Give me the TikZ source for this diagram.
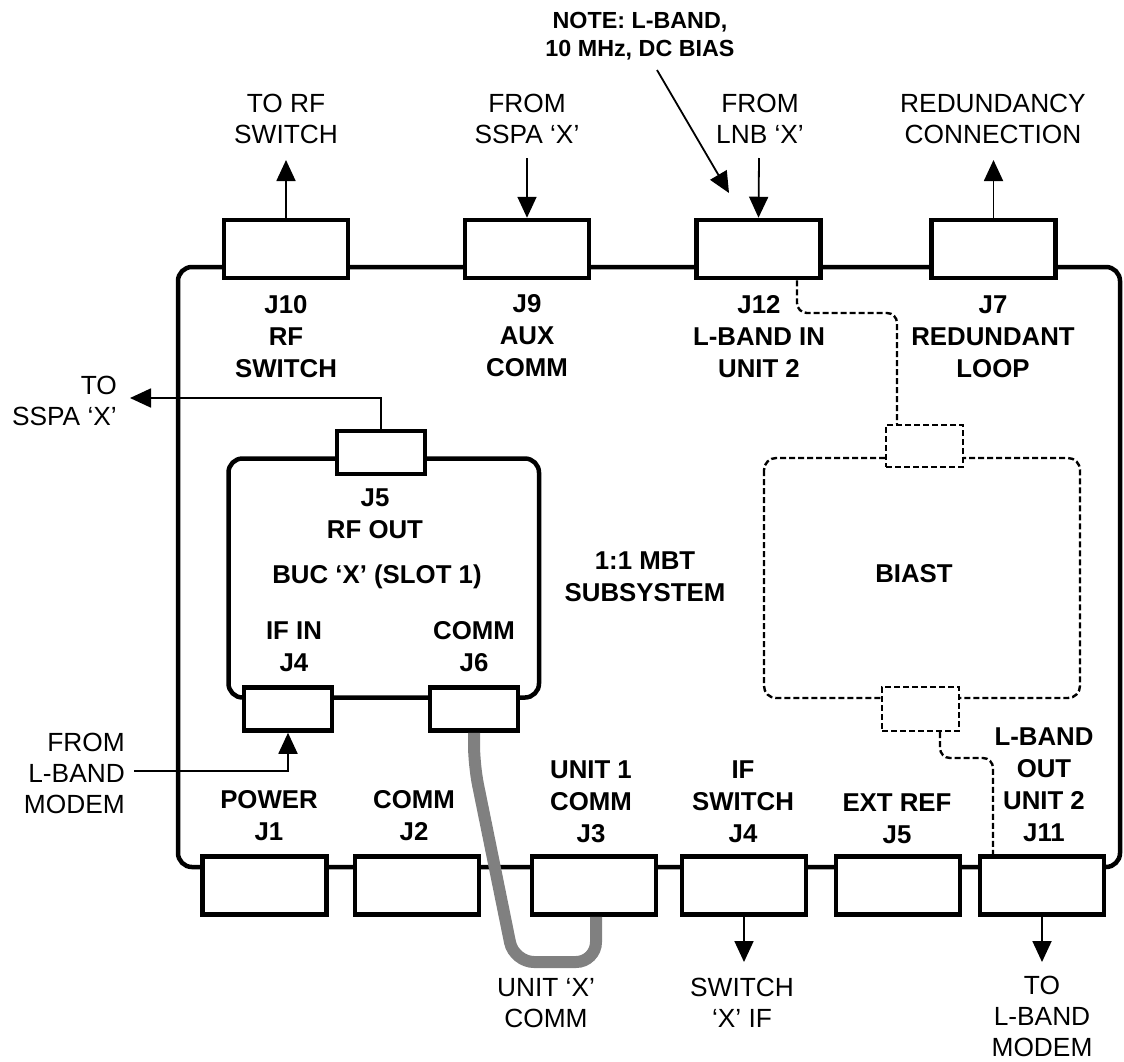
\documentclass[tikz,border=0pt]{standalone}
\usepackage{fontspec}
\setmainfont{Liberation Sans}
\usetikzlibrary{arrows.meta,calc}
\begin{document}
\begin{tikzpicture}[x=1pt,y=-1pt,
  thk/.style={line width=4.5pt},
  conn/.style={draw, line width=4.5pt, fill=white, minimum width=124pt, minimum height=58pt, inner sep=0pt},
  sconn/.style={conn, minimum width=88pt, minimum height=43pt},
  dsh/.style={line width=2.4pt, dash pattern=on 6pt off 3pt},
  dconn/.style={draw, dsh, fill=white, minimum width=77pt, minimum height=42pt, inner sep=0pt},
  arr/.style={line width=1.8pt, -{Triangle[length=21pt,width=19pt]}},
  cable/.style={line width=12pt, draw={rgb,255:red,128;green,128;blue,128}},
  txt/.style={font=\fontsize{26.3}{31}\selectfont, align=center, inner sep=0pt, anchor=base},
  btxt/.style={font=\bfseries\fontsize{25.8}{32}\selectfont, align=center, inner sep=0pt, anchor=base},
  ntxt/.style={font=\bfseries\fontsize{23.3}{28}\selectfont, align=center, inner sep=0pt, anchor=base}
]
\useasboundingbox (0,0) rectangle (1124,1061);

% outer subsystem frame
\draw[thk, rounded corners=14] (178,267) rectangle (1120,867);

% top connectors
\node[conn] (J10) at (286,249) {};
\node[conn] (J9) at (527,249) {};
\node[conn] (J12) at (758.5,249) {};
\node[conn] (J7) at (993.5,249) {};

% bottom connectors
\node[conn] (J1) at (264.5,885.5) {};
\node[conn] (J2) at (417,885.5) {};
\node[conn] (J3) at (594,885.5) {};
\node[conn] (J4) at (744,885.5) {};
\node[conn] (J5) at (898,885.5) {};
\node[conn] (J11) at (1042,885.5) {};

% BUC unit
\draw[thk, rounded corners=14] (228.5,458.5) rectangle (539,697.5);
\node[sconn] (bJ5) at (381,452.5) {};
\node[sconn] (bJ4) at (288,709) {};
\node[sconn] (bJ6) at (474,709) {};

% BIAST
\draw[dsh, rounded corners=12] (764,458) rectangle (1080,698);
\node[dconn] (bt) at (924.5,446) {};
\node[dconn, minimum height=44pt] (bb) at (920.5,709) {};
\node[btxt] (biast) at (914,582) {BIAST};

% dashed links
\draw[dsh, rounded corners=10] ([xshift=38.5pt]J12.south) -- (797,313) -- (897,313) -- ([xshift=-27.5pt]bt.north);
\draw[dsh, rounded corners=10] ([xshift=19.5pt]bb.south) -- (940,758) -- (993,758) -- ([xshift=-49pt]J11.north);

% top labels
\node[txt] (tRF) at (286,143) {TO RF\\SWITCH};
\node[txt] (tSSPA) at (527,143) {FROM\\SSPA ‘X’};
\node[txt] (tLNB) at (760,143) {FROM\\LNB ‘X’};
\node[txt] (tRED) at (993,143) {REDUNDANCY\\CONNECTION};
\node[ntxt] (note) at (640,56) {NOTE: L-BAND,\\10 MHz, DC BIAS};

\coordinate (aRF) at (286,160);
\coordinate (aSSPA) at (527,158);
\coordinate (aLNB) at (759,158);
\coordinate (aRED) at (993.5,160);
\coordinate (noteS) at (657,70);
\coordinate (noteE) at (729,193);
\draw[arr] (J10.north) -- (aRF);
\draw[arr] (aSSPA) -- (J9.north);
\draw[arr] (aLNB) -- (J12.north);
\draw[arr] (J7.north) -- (aRED);
\draw[arr] (noteS) -- (noteE);

% labels under top connectors
\node[btxt] (lJ10) at (286,377) {J10\\RF\\SWITCH};
\node[btxt] (lJ9) at (527,376) {J9\\AUX\\COMM};
\node[btxt] (lJ12) at (759,377) {J12\\L-BAND IN\\UNIT 2};
\node[btxt] (lJ7) at (993,377) {J7\\REDUNDANT\\LOOP};

% BUC labels
\node[btxt] (lbJ5) at (375,538) {J5\\RF OUT};
\node[btxt] (lbuc) at (377,583) {BUC ‘X’ (SLOT 1)};
\node[btxt] (lbJ4) at (294,671) {IF IN\\J4};
\node[btxt] (lbJ6) at (474,671) {COMM\\J6};
\node[btxt] (lmbt) at (645,601) {1:1 MBT\\SUBSYSTEM};

% left side signals
\coordinate (aTOSSPA) at (130,398);
\draw[arr] (bJ5.north) |- (aTOSSPA);
\node[txt, anchor=base east, align=right] (tTOSSPA) at (117,425) {TO\\SSPA ‘X’};
\coordinate (fromLB) at (134,771);
\draw[arr] (fromLB) -| (bJ4.south);
\node[txt, anchor=base east, align=right] (tFROMLB) at (125,813) {FROM\\L-BAND\\MODEM};

% labels above bottom connectors
\node[btxt] (lJ1) at (269,840) {POWER\\J1};
\node[btxt] (lJ2) at (414,840) {COMM\\J2};
\node[btxt] (lJ3) at (591,842) {UNIT 1\\COMM\\J3};
\node[btxt] (lJ4) at (743,842) {IF\\SWITCH\\J4};
\node[btxt] (lJ5) at (897,843) {EXT REF\\J5};
\node[btxt] (lJ11) at (1044,841) {L-BAND\\OUT\\UNIT 2\\J11};

% gray cable
\draw[cable, rounded corners=20] (bJ6.south) -- (474,765) -- (514,962) -- (596,962) -- ([xshift=2pt]J3.south);

% bottom signals
\coordinate (aSW) at (744,962);
\coordinate (aTOLB) at (1042,962);
\draw[arr] (J4.south) -- (aSW);
\draw[arr] (J11.south) -- (aTOLB);
\node[txt] (tUX) at (546,1027) {UNIT ‘X’\\COMM};
\node[txt] (tSW) at (742,1027) {SWITCH\\‘X’ IF};
\node[txt] (tTOLB) at (1042,1056) {TO\\L-BAND\\MODEM};
\end{tikzpicture}
\end{document}
